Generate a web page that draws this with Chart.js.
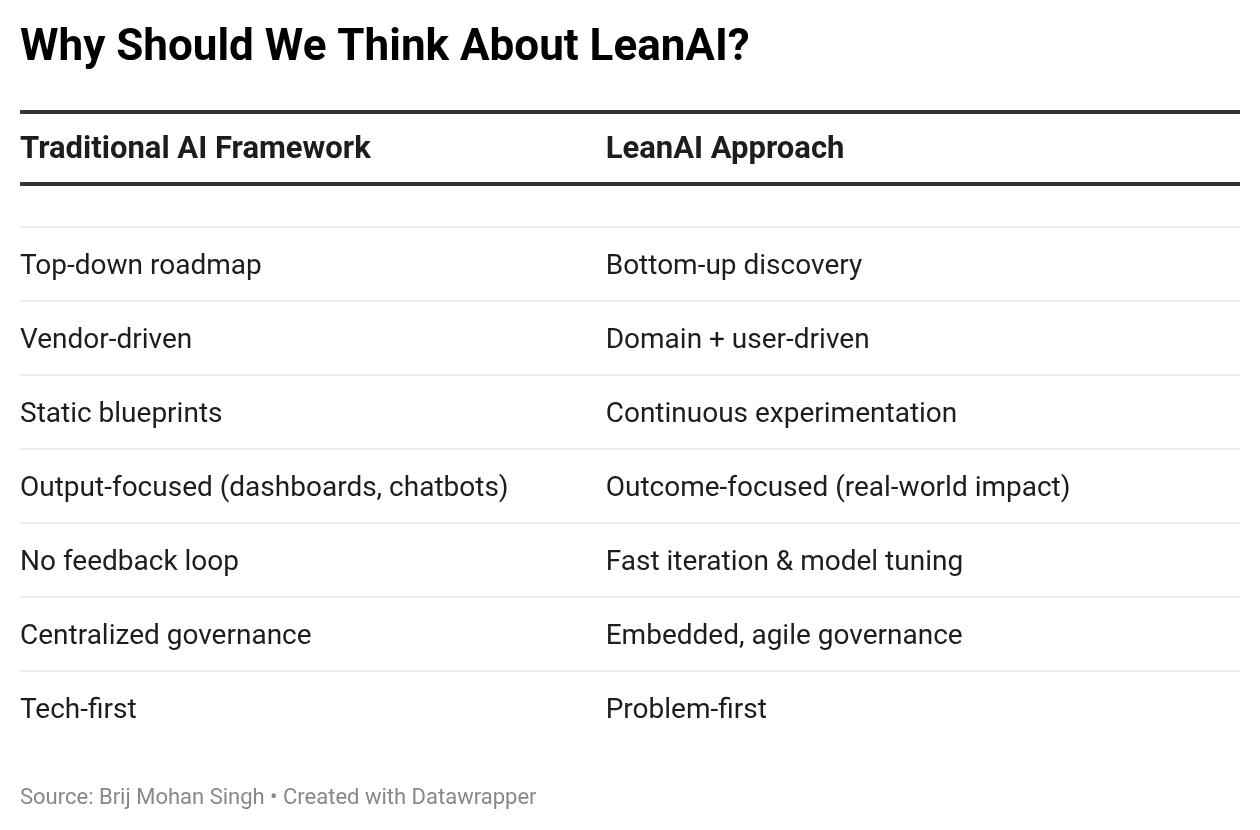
<!DOCTYPE html>
<html>
<head>
<meta charset="utf-8">
<script src="https://cdn.jsdelivr.net/npm/chart.js@4"></script>
<style>
  html, body { margin: 0; padding: 0; background: #fff; }
  #wrap { width: 1260px; height: 830px; }
</style>
</head>
<body>
<div id="wrap"><canvas id="table_chart"></canvas></div>
<script>
// Table content
const title_text = 'Why Should We Think About LeanAI?';
const source_text = 'Source: Brij Mohan Singh \u2022 Created with Datawrapper';
const columns = ['Traditional AI Framework', 'LeanAI Approach'];
const traditional = [
    'Top-down roadmap',
    'Vendor-driven',
    'Static blueprints',
    'Output-focused (dashboards, chatbots)',
    'No feedback loop',
    'Centralized governance',
    'Tech-first'
];
const leanai = [
    'Bottom-up discovery',
    'Domain + user-driven',
    'Continuous experimentation',
    'Outcome-focused (real-world impact)',
    'Fast iteration & model tuning',
    'Embedded, agile governance',
    'Problem-first'
];

// one point per cell: x = column index, y = row index (center of row band)
const HEADER_ROW = -1.035;
function cells(list, col) {
    let pts = [];
    let i = 0;
    while (i < list.length) {
        pts.push({x: col, y: i + 0.5, label: list[i]});
        i++;
    }
    return pts;
}

const FONT = 'Roboto, "Noto Sans", sans-serif';

// draws header, rules and cell texts at the positions given by the scales
const tablePlugin = {
    id: 'tablePlugin',
    afterDatasetsDraw(chart) {
        const c = chart.ctx;
        const xs = chart.scales.x;
        const ys = chart.scales.y;
        const left = chart.chartArea.left;
        const right = chart.chartArea.right;
        c.save();

        // thin row separators at integer row boundaries (none under last row)
        c.strokeStyle = '#ededed';
        c.lineWidth = 2;
        for (let r = 0; r < traditional.length; r++) {
            const py = ys.getPixelForValue(r);
            c.beginPath();
            c.moveTo(left, py);
            c.lineTo(right, py);
            c.stroke();
        }

        // thick header rules
        c.strokeStyle = '#333333';
        c.lineWidth = 4;
        [ys.min, -0.58].forEach(function (v) {
            const py = ys.getPixelForValue(v);
            c.beginPath();
            c.moveTo(left, py);
            c.lineTo(right, py);
            c.stroke();
        });

        // header
        c.fillStyle = '#1d1d1d';
        c.textBaseline = 'middle';
        c.textAlign = 'left';
        c.font = 'bold 31px ' + FONT;
        columns.forEach(function (name, col) {
            c.fillText(name, xs.getPixelForValue(col), ys.getPixelForValue(HEADER_ROW));
        });

        // cells
        c.font = '28px ' + FONT;
        chart.data.datasets.forEach(function (ds, di) {
            const meta = chart.getDatasetMeta(di);
            meta.data.forEach(function (pt, i) {
                c.fillText(ds.data[i].label, pt.x, pt.y + 3);
            });
        });
        c.restore();
    }
};

new Chart(document.getElementById('table_chart'), {
    type: 'scatter',
    data: {
        datasets: [
            { label: columns[0], data: cells(traditional, 0), pointRadius: 0 },
            { label: columns[1], data: cells(leanai, 1), pointRadius: 0 }
        ]
    },
    options: {
        responsive: true,
        maintainAspectRatio: false,
        animation: false,
        events: [],
        layout: { padding: { left: 20, right: 20, top: 0, bottom: 0 } },
        scales: {
            x: { type: 'linear', display: false, min: 0, max: 2.083 },
            y: { type: 'linear', display: false, reverse: true, min: -1.554, max: 7 }
        },
        plugins: {
            legend: { display: false },
            tooltip: { enabled: false },
            title: {
                display: true,
                text: title_text,
                align: 'start',
                color: '#000000',
                font: { family: FONT, size: 44, weight: 'bold', lineHeight: 1.2 },
                padding: { top: 22.6, bottom: 36.6 }
            },
            subtitle: {
                display: true,
                position: 'bottom',
                text: source_text,
                align: 'start',
                color: '#888888',
                font: { family: FONT, size: 22, weight: 'normal', lineHeight: 1.2 },
                padding: { top: 40.3, bottom: 18.3 }
            }
        }
    },
    plugins: [tablePlugin]
});
</script>
</body>
</html>
